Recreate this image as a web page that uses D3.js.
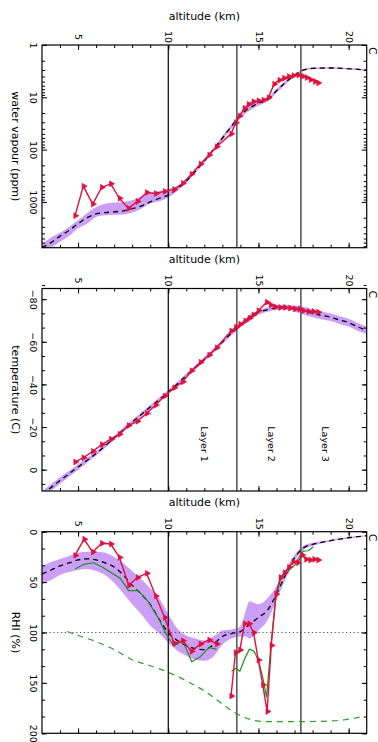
<!DOCTYPE html>
<html><head><meta charset="utf-8">
<script src="https://cdn.jsdelivr.net/npm/d3@7"></script>
<style>
html,body{margin:0;padding:0;background:#fff;}
svg{display:block;}
text{font-family:"DejaVu Sans",sans-serif;fill:#000;}
</style></head><body>
<svg id="c" width="378" height="742"></svg>
<script>
// ================= DATA =================
const altDomain = [3, 21];
const altTickValues = [5, 10, 15, 20];
const altTickLabels = ["5", "10", "15", "20"];
const layerAlts = [10.0, 13.8, 17.35];
const layerLabelAlts = [12.0, 15.7, 18.7];
const layerNames = ["Layer 1", "Layer 2", "Layer 3"];

// ---- water vapour (ppm) ----
const wvDomain = [1, 7500];
const wvTickValues = [1, 10, 100, 1000];
const wvTickLabels = ["1", "10", "100", "1000"];
const wvObsAlt = [4.83,5.29,5.81,6.31,6.81,7.29,7.79,8.28,8.80,9.30,9.80,10.32,10.80,11.28,11.78,12.26,12.68,13.48,13.74,13.94,14.21,14.44,14.71,14.99,15.27,15.55,15.86,16.15,16.41,16.67,16.93,17.2,17.44,17.66,17.88,18.12,18.3];
const wvObs    = [1830,500,1100,525,450,850,1330,980,660,690,630,575,440,294,188,127,88,50,30.6,22.8,16.3,13.6,12.1,11.6,11.3,10.2,5.6,4.7,4.3,4.0,3.85,3.75,3.95,4.2,4.6,5.0,5.3];
const wvModAlt  = [3.0,3.5,4.0,4.5,5.0,5.5,6.0,6.5,7.0,7.5,8.0,8.5,9.0,9.5,10.0,10.5,11.0,11.5,12.0,12.5,13.0,13.5,14.0,14.5,15.0,15.5,16.0,16.5,17.0,17.5,18.0,19.0,20.0,21.0];
const wvModMean = [7500,6000,4500,3500,2600,2000,1700,1600,1550,1480,1350,1200,1000,850,740,560,400,260,165,100,60,36,22,16,13,11,7.5,5.2,3.8,3.0,2.8,2.75,2.85,3.0];
const wvModLo   = [6500,4800,3900,3000,2250,1650,1250,1080,1020,1000,930,780,690,620,560,500,370,240,155,92,55,33,20,14.3,12,10.2,6.9,4.8,3.6,2.9,2.7,2.65,2.75,2.9];
const wvModHi   = [9500,7600,5800,4500,3200,2600,1950,1800,1760,1740,1600,1350,1070,970,820,620,430,280,180,108,66,40,25,18,14.5,12,8.3,5.6,4.0,3.15,2.9,2.85,2.95,3.1];

// ---- temperature (C) ----
const tDomain = [-85, 10];
const tTickValues = [-80, -60, -40, -20, 0];
const tTickLabels = ["\u221280", "\u221260", "\u221240", "\u221220", "0"];
const tObsAlt = [4.83,5.29,5.81,6.31,6.81,7.29,7.79,8.28,8.80,9.30,9.80,10.32,10.80,11.28,11.78,12.26,12.68,13.48,13.74,13.98,14.26,14.5,14.71,14.99,15.45,15.67,15.93,16.19,16.46,16.74,17.02,17.26,17.48,17.76,18.04,18.3];
const tObs    = [-3.6,-5.6,-8.6,-11.8,-14.3,-16.6,-20.7,-22.7,-26.4,-30.3,-34.6,-38.4,-41.2,-46.4,-50.4,-53.8,-57.2,-65.1,-66.8,-68.2,-69.8,-71.1,-72.6,-74.6,-78.6,-77.3,-76.4,-76.1,-76.1,-75.8,-75.4,-75.4,-74.6,-74.2,-74.2,-73.9];
const tModAlt  = [3,4,5,6,7,8,9,10,11,12,13,13.5,14,14.5,15,15.5,16,16.5,17,17.5,18,18.5,19,19.5,20,20.5,21];
const tModMean = [11.6,5.1,-1.3,-7.6,-14.9,-22.3,-29.4,-36.4,-44.1,-51.7,-59.9,-64.0,-67.7,-71.6,-73.8,-75.1,-75.9,-76.2,-75.6,-74.6,-73.3,-72.4,-71.5,-70.2,-69.0,-67.0,-65.4];
const tModLo   = [10.1,3.6,-2.6,-8.6,-15.9,-23.3,-30.4,-37.4,-45.1,-52.7,-60.9,-65.0,-68.7,-72.6,-74.8,-76.1,-76.9,-77.4,-77.0,-76.4,-75.1,-74.2,-73.3,-72.0,-70.8,-68.8,-67.2];
const tModHi   = [13.1,6.6,0.0,-6.6,-13.9,-21.3,-28.4,-35.4,-43.1,-50.7,-58.9,-63.0,-66.7,-70.6,-72.8,-74.1,-74.9,-75.0,-74.2,-72.8,-71.5,-70.6,-69.7,-68.4,-67.2,-65.2,-63.6];

// ---- RHI (%) ----
const rhiDomain = [0, 200];
const rhiTickValues = [0, 50, 100, 150, 200];
const rhiTickLabels = ["0", "50", "100", "150", "200"];
const rhiObsAlt = [4.83,5.33,5.81,6.31,6.81,7.29,7.81,8.29,8.80,9.30,9.80,10.32,10.80,11.28,11.78,12.26,12.68,13.1,13.48,13.72,13.97,14.23,14.48,14.73,14.99,15.24,15.48,15.71,15.97,16.21,16.44,16.68,16.93,17.17,17.41,17.63,17.86,18.08,18.3];
const rhiObs    = [23.5,7.4,20.2,11.5,12.2,25.5,53.2,45.4,41.3,63.8,85.2,110.7,108.1,118.7,111.4,107.4,111.4,null,163,120,117.4,91.3,91.3,100.2,127.3,152,178.4,112.8,62,45.3,40.7,35.3,29.8,30.8,23.1,27.4,28.1,27.4,28.1];
const rhiGreenAlt = [4.83,5.3,5.85,6.31,7.34,7.8,8.34,8.89,9.46,9.91,10.32,10.8,11.3,11.78,12.26,12.68,13.1,13.51,13.75,13.97,14.25,14.5,14.75,14.99,15.22,15.45,15.7,15.97,16.21,16.46,16.74,17.02,17.26,17.48,17.76,18.04];
const rhiGreen    = [37,32.5,30.8,34.7,46.3,58.5,58.5,69.4,86,102.5,113.4,108.1,129,124,114.7,116.7,null,138.4,135.5,138.4,125.5,116.5,118.5,127.3,143,164,110.5,64.5,47.9,43,37.3,33,24.8,19.2,18.9,14.9];
const rhiIceAlt = [4.4,5,6,7,8,9,10,11,12,13,13.6,14,14.5,15,16,17,18,19,20,20.7];
const rhiIce    = [99,103,109,117,127,133,139.5,148,158,171,178.6,182.5,186,188,188.5,188.5,188.3,187.8,186,183.5];
const rhiModAlt  = [3.0,3.5,4.0,4.5,5.0,5.5,6.0,6.5,7.0,7.5,8.0,8.5,9.0,9.5,10.0,10.5,11.0,11.5,12.0,12.5,13.0,13.5,14.0,14.3,14.5,15.0,15.5,16.0,16.5,17.0,17.5,18.0,18.5,19.0,20.0,21.0];
const rhiModMean = [42,38,34,31,28,27,28,31,35,43,53,62,72,87,100,108,113,116,117,112,104,101,99,95,92,85,78,62,43,26,16,12.5,10.5,8.8,6,4];
const rhiModLo   = [34,30,27,24,21,20,20,21,25,31,39,47,56,66,82,96,103,106,108,104,98,97,94,78,69,72,66,54,38,23,14,11,9.5,8,5.3,3.5];
const rhiModHi   = [52,48,43,40,38,37,39,43,51,61,72,82,93,101,110,118,123,127,128,124,112,106,104,104,106,98,88,68,47,29,18,14,11.5,9.6,6.7,4.5];
const rhiSat = 100;

// ================= DRAWING =================
const svg = d3.select("#c");
const x = d3.scaleLinear().domain(altDomain).range([42, 366.7]);

const C = {
  band: "#cb9ff8", red: "#e0103c", green: "#1f8f1f", green2: "#2ca02c",
  layerDark: "#000", layerGray: "#5a5a5a"
};

const clipId = (i) => "clip" + i;

function panel(i, top, height, y, yTicks, yLabels, yMinor, title) {
  const g = svg.append("g");
  const bottom = top + height;
  g.append("clipPath").attr("id", clipId(i)).append("rect")
    .attr("x", x.range()[0]).attr("y", top).attr("width", x.range()[1] - x.range()[0]).attr("height", height);
  const plot = g.append("g").attr("clip-path", `url(#${clipId(i)})`);

  const topAx = g.append("g").attr("transform", `translate(0,${top})`)
    .call(d3.axisTop(x).tickValues(altTickValues).tickFormat((d, k) => altTickLabels[k]).tickSize(-5).tickSizeOuter(0));
  topAx.select(".domain").remove();
  topAx.selectAll("text").attr("x", 0).attr("y", 0).attr("dy", null)
    .attr("transform", "translate(-3.4,-8) rotate(90)").attr("text-anchor", "middle")
    .attr("font-size", 9.5).attr("font-family", "DejaVu Sans");
  const topMinor = g.append("g").attr("transform", `translate(0,${top})`)
    .call(d3.axisTop(x).tickValues(d3.range(4, 21, 1)).tickFormat("").tickSize(-3).tickSizeOuter(0));
  topMinor.select(".domain").remove();
  const botAx = g.append("g").attr("transform", `translate(0,${bottom})`)
    .call(d3.axisBottom(x).tickValues(altTickValues).tickFormat("").tickSize(-5).tickSizeOuter(0));
  botAx.select(".domain").remove();
  const botMinor = g.append("g").attr("transform", `translate(0,${bottom})`)
    .call(d3.axisBottom(x).tickValues(d3.range(4, 21, 1)).tickFormat("").tickSize(-3).tickSizeOuter(0));
  botMinor.select(".domain").remove();

  const L = x.range()[0], R = x.range()[1];
  const leftAx = g.append("g").attr("transform", `translate(${L},0)`)
    .call(d3.axisLeft(y).tickValues(yTicks).tickFormat((d, k) => yLabels[k]).tickSize(-5).tickSizeOuter(0));
  leftAx.select(".domain").remove();
  leftAx.selectAll("text").attr("x", 0).attr("y", 0).attr("dy", null)
    .attr("transform", "translate(-12,0) rotate(90)").attr("text-anchor", "middle")
    .attr("font-size", 9.5).attr("font-family", "DejaVu Sans");
  const leftMinor = g.append("g").attr("transform", `translate(${L},0)`)
    .call(d3.axisLeft(y).tickValues(yMinor).tickFormat("").tickSize(-3).tickSizeOuter(0));
  leftMinor.select(".domain").remove();
  const rightAx = g.append("g").attr("transform", `translate(${R},0)`)
    .call(d3.axisRight(y).tickValues(yTicks).tickFormat("").tickSize(-5).tickSizeOuter(0));
  rightAx.select(".domain").remove();
  const rightMinor = g.append("g").attr("transform", `translate(${R},0)`)
    .call(d3.axisRight(y).tickValues(yMinor).tickFormat("").tickSize(-3).tickSizeOuter(0));
  rightMinor.select(".domain").remove();
  g.selectAll(".tick line").attr("stroke", "#000").attr("stroke-width", 1);

  g.append("rect").attr("x", L).attr("y", top).attr("width", R - L).attr("height", height)
    .attr("fill", "none").attr("stroke", "#000").attr("stroke-width", 1.2);

  g.append("text").attr("x", (L + R) / 2).attr("y", top - 25.5).attr("text-anchor", "middle")
    .attr("font-size", 11).text("altitude (km)");
  g.append("text").attr("class", "ytitle").attr("transform", `translate(12,${top + height / 2}) rotate(90)`)
    .attr("text-anchor", "middle").attr("font-size", 11).text(title);
  g.append("text").attr("transform", `translate(369,${top + 2}) rotate(90)`)
    .attr("text-anchor", "start").attr("font-size", 11).text("C");

  return plot;
}

function layerLines(plot, top, height) {
  layerAlts.forEach((a, k) => {
    plot.append("line").attr("x1", x(a)).attr("x2", x(a)).attr("y1", top).attr("y2", top + height)
      .attr("stroke", k === 0 ? C.layerDark : C.layerGray).attr("stroke-width", k === 0 ? 1.2 : 1.6);
  });
}

function band(plot, y, alts, lo, hi) {
  const pts = alts.map((a, k) => ({a, lo: lo[k], hi: hi[k]}));
  plot.append("path").datum(pts)
    .attr("d", d3.area().x(d => x(d.a)).y0(d => y(d.lo)).y1(d => y(d.hi)).curve(d3.curveMonotoneX))
    .attr("fill", C.band).attr("stroke", "none");
}
function dashed(plot, y, alts, vals, color, dash, width) {
  const pts = alts.map((a, k) => ({a, v: vals[k]}));
  plot.append("path").datum(pts)
    .attr("d", d3.line().defined(d => d.v != null).x(d => x(d.a)).y(d => y(d.v)).curve(d3.curveMonotoneX))
    .attr("fill", "none").attr("stroke", color).attr("stroke-width", width).attr("stroke-dasharray", dash);
}
function obs(plot, y, alts, vals, color, withMarkers, width) {
  const pts = alts.map((a, k) => ({a, v: vals[k]}));
  plot.append("path").datum(pts)
    .attr("d", d3.line().defined(d => d.v != null).x(d => x(d.a)).y(d => y(d.v)))
    .attr("fill", "none").attr("stroke", color).attr("stroke-width", width).attr("stroke-linejoin", "round");
  if (withMarkers) {
    const sym = d3.symbol().type(d3.symbolTriangle).size(15);
    plot.selectAll(null).data(pts.filter(d => d.v != null)).join("path")
      .attr("d", sym).attr("transform", d => `translate(${x(d.a) + 0.5},${y(d.v)}) rotate(90)`)
      .attr("fill", color).attr("stroke", color).attr("stroke-width", 0.6);
  }
}

// ---------- Panel 1: water vapour ----------
const top1 = 45, h1 = 202.7;
const yWV = d3.scaleLog().domain(wvDomain).range([top1, top1 + h1]);
const wvMinor = [];
[1, 10, 100, 1000].forEach(dec => [2,3,4,5,6,7,8,9].forEach(m => { if (dec * m <= wvDomain[1]) wvMinor.push(dec * m); }));
const p1 = panel(1, top1, h1, yWV, wvTickValues, wvTickLabels, wvMinor, "water vapour (ppm)");
band(p1, yWV, wvModAlt, wvModLo, wvModHi);
layerLines(p1, top1, h1);
dashed(p1, yWV, wvModAlt, wvModMean, "#000", "5,4", 1.3);
obs(p1, yWV, wvObsAlt, wvObs, C.red, true, 1.4);

// ---------- Panel 2: temperature ----------
const top2 = 288.5, h2 = 202.5;
const yT = d3.scaleLinear().domain(tDomain).range([top2, top2 + h2]);
const tMinor = d3.range(-80, 10.01, 20 / 3).concat([-80 - 20 / 3]);
const p2 = panel(2, top2, h2, yT, tTickValues, tTickLabels, tMinor, "temperature (C)");
band(p2, yT, tModAlt, tModLo, tModHi);
layerLines(p2, top2, h2);
dashed(p2, yT, tModAlt, tModMean, "#000", "5,4", 1.3);
obs(p2, yT, tObsAlt, tObs, C.red, true, 1.4);
layerNames.forEach((n, k) => {
  p2.append("text").attr("transform", `translate(${x(layerLabelAlts[k]) - 3.4},${yT(-12)}) rotate(90)`)
    .attr("text-anchor", "middle").attr("font-size", 9.5).text(n);
});

// ---------- Panel 3: RHI ----------
const top3 = 531.7, h3 = 201.6;
const yR = d3.scaleLinear().domain(rhiDomain).range([top3, top3 + h3]);
const rMinor = d3.range(0, 200.01, 50 / 3);
const p3 = panel(3, top3, h3, yR, rhiTickValues, rhiTickLabels, rMinor, "RHI (%)");
band(p3, yR, rhiModAlt, rhiModLo, rhiModHi);
layerLines(p3, top3, h3);
p3.append("line").attr("x1", x.range()[0]).attr("x2", x.range()[1]).attr("y1", yR(rhiSat)).attr("y2", yR(rhiSat))
  .attr("stroke", "#555").attr("stroke-width", 1.2).attr("stroke-dasharray", "1.2,2.6");
dashed(p3, yR, rhiIceAlt, rhiIce, C.green2, "6,5", 1.2);
dashed(p3, yR, rhiModAlt, rhiModMean, "#000", "5,4", 1.3);
obs(p3, yR, rhiGreenAlt, rhiGreen, C.green, false, 1.2);
obs(p3, yR, rhiObsAlt, rhiObs, C.red, true, 1.4);
</script>
</body></html>
